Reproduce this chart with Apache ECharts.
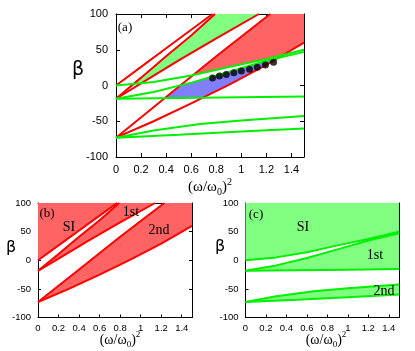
<!DOCTYPE html>
<html>
<head>
<meta charset="utf-8">
<script src="https://cdn.jsdelivr.net/npm/echarts@6/dist/echarts.min.js"></script>
<style>
  html, body { margin: 0; padding: 0; background: #fff; }
  #chart { width: 415px; height: 351px; }
</style>
</head>
<body>
<div id="chart"></div>
<script>
// boundaries, [x, beta]
const redSI = [[0, 0], [0.2, 26], [0.4, 52], [0.6, 78], [0.77, 100]]
const red1stUp = [[0, -18.5], [0.2, 11], [0.4, 41], [0.6, 70], [0.79, 100]]
const red1stLow = [[0, -18.5], [0.2, 3], [0.5, 35], [0.8, 66], [1.14, 100]]
const red2ndUp = [[0, -73], [0.4, -16], [0.8, 41], [1.23, 100]]
const red2ndLow = [[0, -73], [0.3, -50], [0.6, -25], [0.9, 1], [1.2, 29], [1.5, 60]]

const greenSI = [[0, 0], [0.3, 5], [0.6, 14], [0.9, 26], [1.2, 37], [1.5, 50]]
const green1stUp = [[0, -18.5], [0.3, -9], [0.6, 4], [0.9, 19], [1.2, 34.5], [1.5, 47]]
const green1stLow = [[0, -18.5], [0.5, -17.5], [1.0, -16.5], [1.5, -15.5]]
const green2ndUp = [[0, -73], [0.3, -63], [0.67, -54], [1.0, -49], [1.5, -42.5]]
const green2ndLow = [[0, -73], [0.5, -69], [1.0, -64.5], [1.5, -60]]

// black dots in (a)
const dotX = [0.77, 0.825, 0.88, 0.94, 1.0, 1.065, 1.127, 1.192, 1.257]
const dotY = [10.6, 13.2, 15.5, 17.9, 20.2, 22.8, 25.5, 28.6, 32.6]

const xMin = 0, xMax = 1.5, xStep = 0.2
const yMin = -100, yMax = 100, yStep = 50

const RED = '#ff0000', GREEN = '#00f000'
const RED_FILL = '#ff6464', GREEN_FILL = '#80ff80', BLUE_FILL = '#8080ff'

function valueAt (curve, x) {
  for (let i = 1; i < curve.length; i++) {
    if (x <= curve[i][0]) {
      const [x0, y0] = curve[i - 1], [x1, y1] = curve[i]
      return y0 + (y1 - y0) * (x - x0) / (x1 - x0)
    }
  }
  const [x0, y0] = curve[curve.length - 2], [x1, y1] = curve[curve.length - 1]
  return y0 + (y1 - y0) * (x - x0) / (x1 - x0)
}

// outline of the area between max(lows) and min(highs), cut at the top
function region (lows, highs) {
  const up = [], dn = []
  for (let i = 0; i <= 600; i++) {
    const x = xMin + i * (xMax - xMin) / 600
    const lo = Math.max(...lows.map(c => valueAt(c, x)))
    const hi = Math.min(yMax, ...highs.map(c => valueAt(c, x)))
    if (hi > lo) {
      up.push([x, hi])
      dn.push([x, lo])
    }
  }
  return up.concat(dn.reverse())
}

function fill (poly, color, g) {
  return {
    type: 'custom',
    xAxisIndex: g * 2,
    yAxisIndex: g * 2,
    silent: true,
    z: 1,
    data: [[0, 0]],
    renderItem: (params, api) => ({
      type: 'polygon',
      shape: { points: poly.map(p => api.coord(p)) },
      style: { fill: color }
    })
  }
}

function line (curve, color, g, z) {
  return {
    type: 'line',
    xAxisIndex: g * 2,
    yAxisIndex: g * 2,
    data: curve,
    symbol: 'none',
    silent: true,
    z: z,
    lineStyle: { color: color, width: 2 }
  }
}

function axesX (g, fontSize, tick) {
  const base = {
    gridIndex: g, type: 'value', min: xMin, max: xMax, interval: xStep,
    axisLine: { onZero: false, lineStyle: { color: '#000', width: 1 } },
    axisTick: { inside: true, length: tick, lineStyle: { color: '#000' } },
    splitLine: { show: false }
  }
  return [
    Object.assign({}, base, {
      position: 'bottom',
      axisLabel: { color: '#000', fontSize: fontSize, fontFamily: 'Liberation Sans', margin: tick + 3, showMaxLabel: false }
    }),
    Object.assign({}, base, { position: 'top', axisLabel: { show: false } })
  ]
}

function axesY (g, fontSize, tick) {
  const base = {
    gridIndex: g, type: 'value', min: yMin, max: yMax, interval: yStep,
    axisLine: { onZero: false, lineStyle: { color: '#000', width: 1 } },
    axisTick: { inside: true, length: tick, lineStyle: { color: '#000' } },
    splitLine: { show: false }
  }
  return [
    Object.assign({}, base, {
      position: 'left',
      axisLabel: { color: '#000', fontSize: fontSize, fontFamily: 'Liberation Sans', margin: tick + 4 }
    }),
    Object.assign({}, base, { position: 'right', axisLabel: { show: false } })
  ]
}

function label (text, x, y, size, family) {
  return {
    type: 'text', x: x, y: y, z: 50, silent: true,
    style: {
      text: text, fill: '#000', fontSize: size, fontFamily: family || 'Liberation Serif',
      align: 'center', verticalAlign: 'middle'
    }
  }
}

function xTitle (x, y, size) {
  const sub = Math.round(size * 0.66)
  return {
    type: 'text', x: x, y: y, z: 50, silent: true,
    style: {
      text: '(ω/ω{sub|0}){sup|2}', fill: '#000', fontSize: size, fontFamily: 'Liberation Serif',
      align: 'center', verticalAlign: 'middle',
      rich: {
        sub: { fontSize: sub, fontFamily: 'Liberation Serif', fill: '#000', padding: [10, 0, 0, 0] },
        sup: { fontSize: sub, fontFamily: 'Liberation Serif', fill: '#000', padding: [0, 0, 10, 0] }
      }
    }
  }
}

const chart = echarts.init(document.getElementById('chart'), null, { renderer: 'canvas' })

chart.setOption({
  animation: false,
  backgroundColor: '#fff',
  grid: [
    { left: 116, top: 14, width: 188, height: 143, outerBoundsMode: 'none' },
    { left: 38, top: 203, width: 154, height: 114.5, outerBoundsMode: 'none' },
    { left: 245.5, top: 203, width: 153.5, height: 114.5, outerBoundsMode: 'none' }
  ],
  xAxis: [...axesX(0, 11, 4), ...axesX(1, 9.5, 3), ...axesX(2, 9.5, 3)],
  yAxis: [...axesY(0, 11, 4), ...axesY(1, 9.5, 3), ...axesY(2, 9.5, 3)],
  series: [
    // (a) overlaps of the two sets of tongues
    fill(region([red1stLow, greenSI], [red1stUp]), GREEN_FILL, 0),
    fill(region([red2ndLow, greenSI], [red2ndUp]), RED_FILL, 0),
    fill(region([red2ndLow, green1stLow], [red2ndUp, green1stUp]), BLUE_FILL, 0),
    ...[redSI, red1stUp, red1stLow, red2ndUp, red2ndLow].map(c => line(c, RED, 0, 2)),
    ...[greenSI, green1stUp, green1stLow, green2ndUp, green2ndLow].map(c => line(c, GREEN, 0, 3)),
    {
      type: 'scatter', xAxisIndex: 0, yAxisIndex: 0, z: 4, silent: true,
      symbolSize: 7, itemStyle: { color: '#000' },
      data: dotX.map((x, i) => [x, dotY[i]])
    },
    // (b) red tongues
    fill(region([redSI], []), RED_FILL, 1),
    fill(region([red1stLow], [red1stUp]), RED_FILL, 1),
    fill(region([red2ndLow], [red2ndUp]), RED_FILL, 1),
    ...[redSI, red1stUp, red1stLow, red2ndUp, red2ndLow].map(c => line(c, RED, 1, 2)),
    // (c) green tongues
    fill(region([greenSI], []), GREEN_FILL, 2),
    fill(region([green1stLow], [green1stUp]), GREEN_FILL, 2),
    fill(region([green2ndLow], [green2ndUp]), GREEN_FILL, 2),
    ...[greenSI, green1stUp, green1stLow, green2ndUp, green2ndLow].map(c => line(c, GREEN, 2, 2))
  ],
  graphic: [
    label('β', 78, 70, 19, 'DejaVu Sans'),
    label('β', 11, 248, 16, 'DejaVu Sans'),
    label('β', 220, 247, 16, 'DejaVu Sans'),
    xTitle(210, 187, 15),
    xTitle(120, 340, 14),
    xTitle(326, 340, 14),
    label('(a)', 125, 28, 13),
    label('(b)', 47, 214, 13),
    label('(c)', 256, 215, 13),
    label('SI', 69, 227, 14),
    label('1st', 131, 212, 14),
    label('2nd', 159, 230, 14),
    label('SI', 303, 227, 14),
    label('1st', 375, 255, 14),
    label('2nd', 384, 291, 14)
  ]
})
</script>
</body>
</html>
